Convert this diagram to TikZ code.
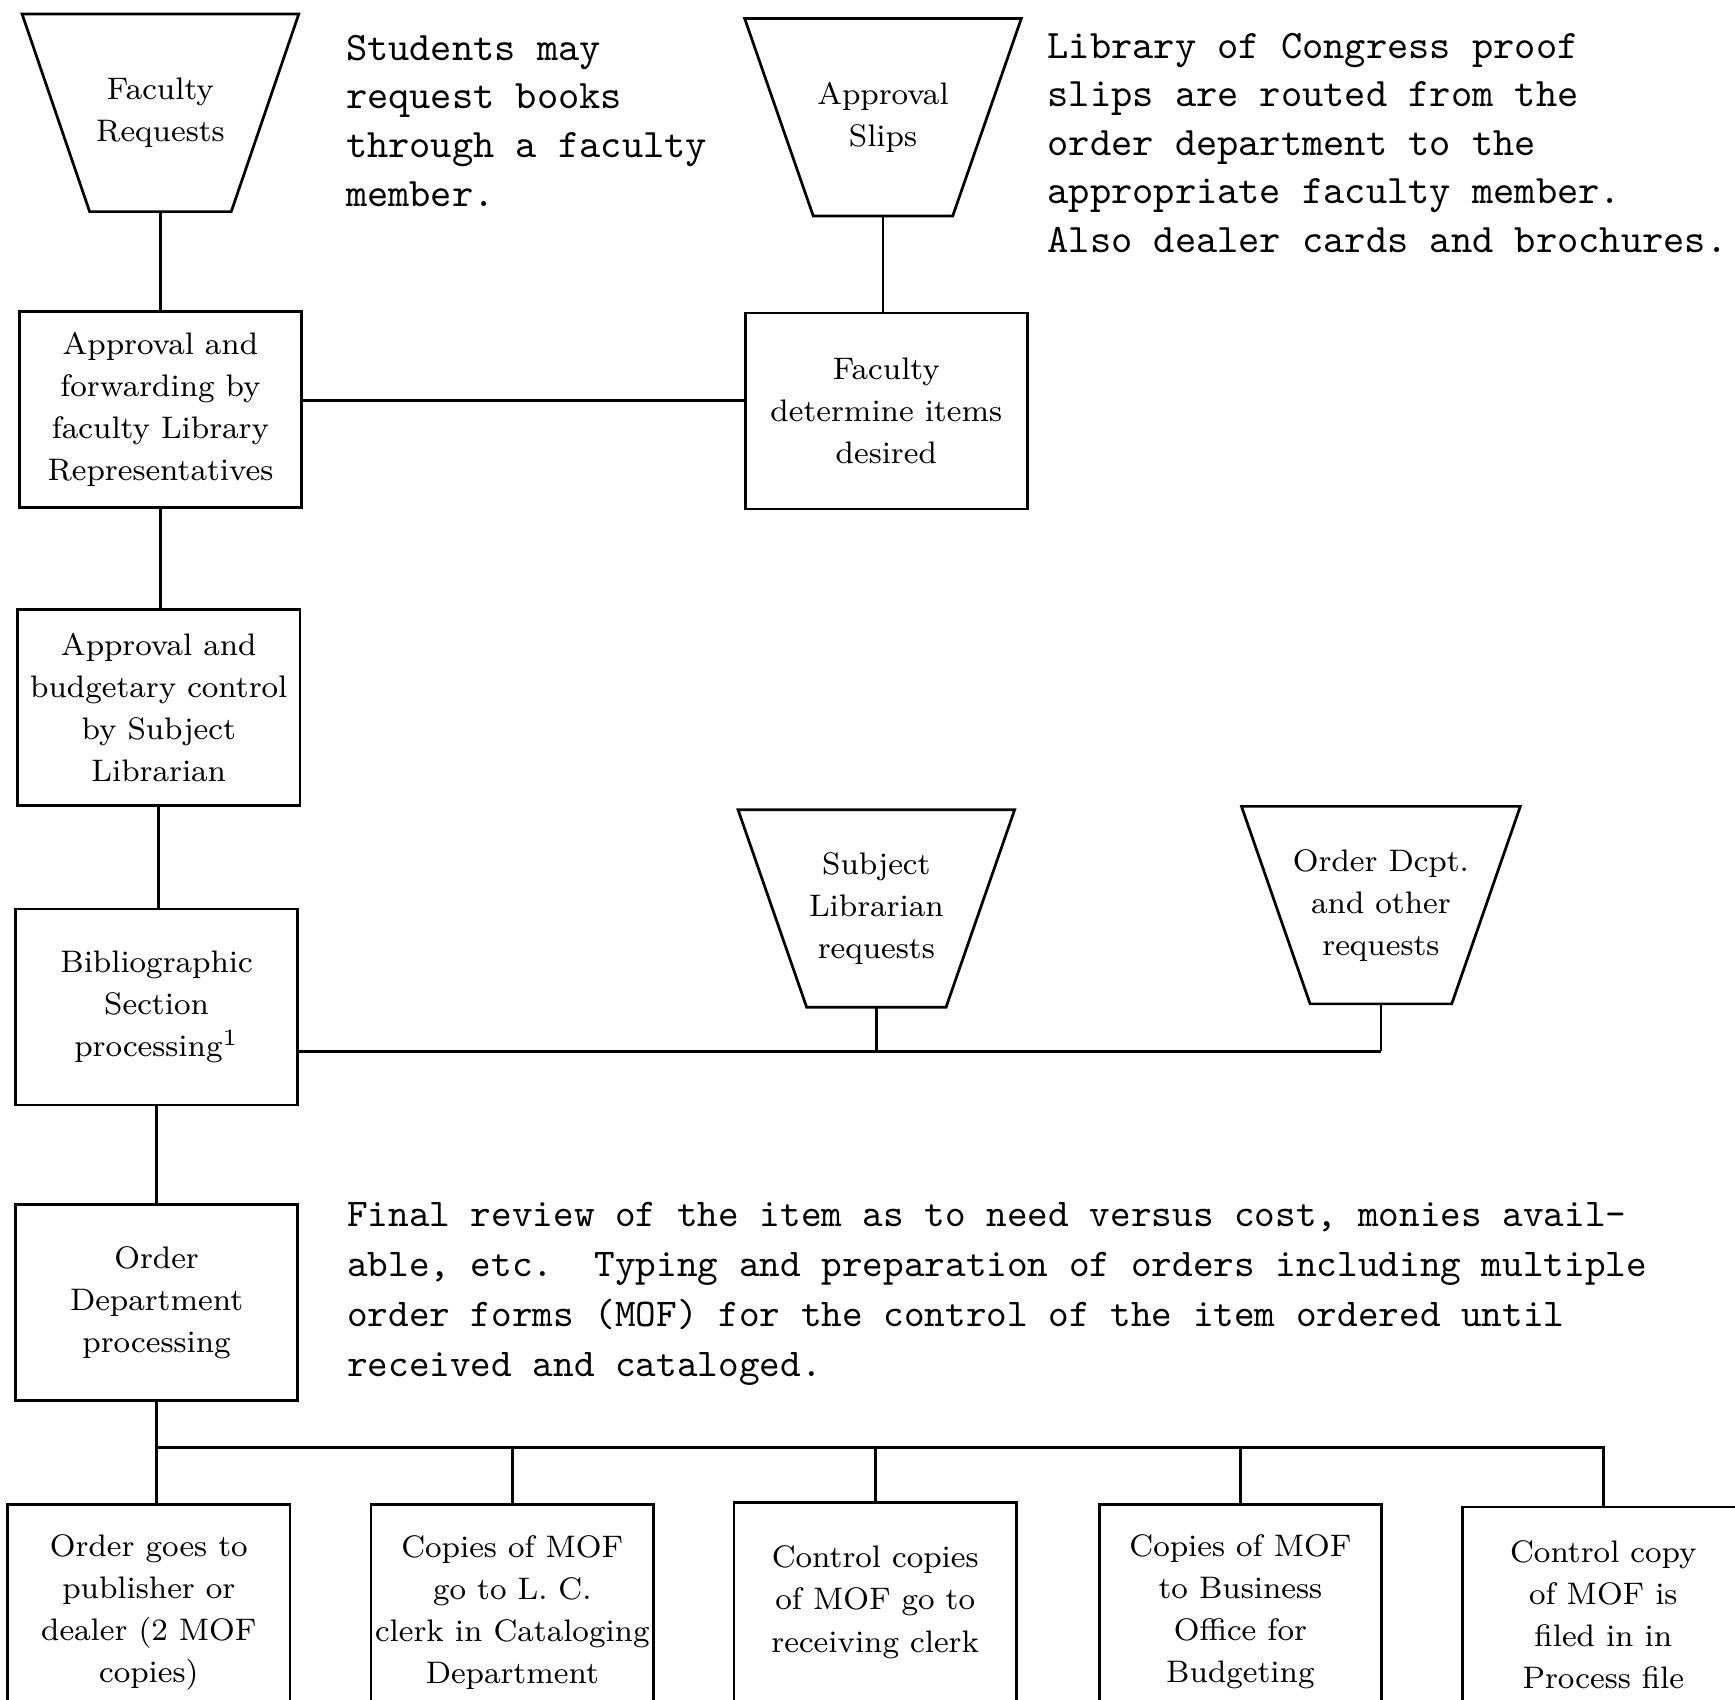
\documentclass[tikz,border=0pt]{standalone}
\usetikzlibrary{calc}
\newcommand\boxfont{\fontsize{8}{10.8}\selectfont}
\newcommand\notefont{\fontsize{10.4}{12.5}\selectfont\ttfamily}
\newcommand\notefontb{\fontsize{10.1}{12.8}\selectfont\ttfamily}
\newcommand\funnel[3]{\draw[con] ($(#1.north)+(-#2,0)$) -- ($(#1.north)+(#2,0)$) -- ($(#1.south)+(#3,0)$) -- ($(#1.south)+(-#3,0)$) -- cycle;}
\tikzset{
  con/.style={line width=0.7pt, line join=miter},
  box/.style={draw, line width=0.7pt, minimum width=2.55cm, minimum height=1.77cm, align=center, font=\boxfont, inner sep=1pt},
  lowbox/.style={box, minimum height=1.94cm},
  fun/.style={minimum height=1.77cm, align=center, font=\boxfont, inner sep=0pt},
  note/.style={anchor=north west, align=left, inner sep=0pt, font=\notefont},
}
\begin{document}
\begin{tikzpicture}[x=0.01cm,y=-0.01cm]
\useasboundingbox (0,0) rectangle (1568,1536);
\clip (0,0) rectangle (1568,1536);
\fill[white] (0,0) rectangle (1568,1536);

% funnels (request sources)
\node[fun] (t1) at (145,102) {Faculty\\Requests};
\funnel{t1}{125}{64}
\node[fun] (t2) at (798,106) {Approval\\Slips};
\funnel{t2}{125}{63}
\node[fun] (t3) at (792,821) {Subject\\Librarian\\requests};
\funnel{t3}{125}{63}
\node[fun] (t4) at (1248,818) {Order Dcpt.\\and other\\requests};
\funnel{t4}{126}{64}

% main column
\node[box] (b1) at (145,370) {Approval and\\forwarding by\\faculty Library\\Representatives};
\node[box] (b4) at (801,371.5) {Faculty\\determine items\\desired};
\node[box] (b2) at (143.5,639.5) {Approval and\\budgetary control\\by Subject\\Librarian};
\node[box] (b3) at (141.5,910) {Bibliographic\\Section\\processing\textsuperscript{1}};
\node[box] (b5) at (141.5,1177) {Order\\Department\\processing};

% bottom row (cut off by the lower edge)
\node[lowbox] (o1) at (134.5,1457) {Order goes to\\publisher or\\dealer (2 MOF\\copies)};
\node[lowbox] (o2) at (463,1457) {Copies of MOF\\go to L. C.\\clerk in Cataloging\\Department};
\node[box, minimum height=1.8cm] (o3) at (791,1448) {Control copies\\of MOF go to\\receiving clerk};
\node[lowbox] (o4) at (1121,1457) {Copies of MOF\\to Business\\Office for\\Budgeting};
\node[lowbox] (o5) at (1449,1459) {Control copy\\of MOF is\\filed in in\\Process file};

% notes
\node[note] (n1) at (312,31) {Students may\\request books\\through a faculty\\member.};
\node[note] (n2) at (946,29) {Library of Congress proof\\slips are routed from the\\order department to the\\appropriate faculty member.\\Also dealer cards and brochures.};
\node[note, font=\notefontb] (n3) at (313,1086) {Final review of the item as to need versus cost, monies avail-\\able, etc.\ \ Typing and preparation of orders including multiple\\order forms (MOF) for the control of the item ordered until\\received and cataloged.};

% connectors
\coordinate (j1) at (1248,950);
\coordinate (bus) at (140,1308);
\draw[con] (t1.south) -- (t1.south |- b1.north);
\draw[con] (b1.south) -- (b1.south |- b2.north);
\draw[con] ([yshift=0.08cm]b1.east) -- ([yshift=0.08cm]b1.east -| b4.west);
\draw[con] (t2.south) -- (t2.south |- b4.north);
\draw[con] (b2.south) -- (b2.south |- b3.north);
\draw[con] (b3.east |- j1) -- (j1);
\draw[con] (t3.south) -- (t3.south |- j1);
\draw[con] (t4.south) -- (j1);
\draw[con] (b3.south) -- (b3.south |- b5.north);
\draw[con] (b5.south) -- (b5.south |- o1.north);
\draw[con] (bus) -| (o5.north);
\draw[con] (o2.north |- bus) -- (o2.north);
\draw[con] (o3.north |- bus) -- (o3.north);
\draw[con] (o4.north |- bus) -- (o4.north);
\end{tikzpicture}
\end{document}
